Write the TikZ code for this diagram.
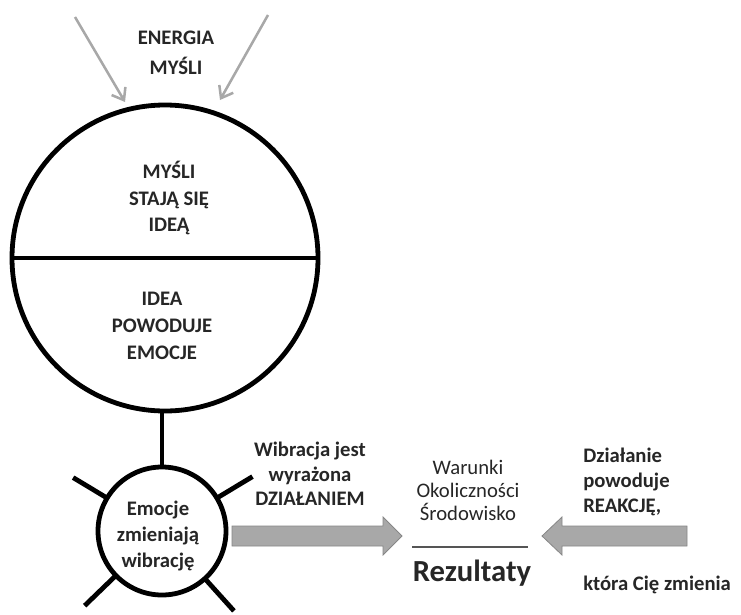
\documentclass[tikz,border=0pt]{standalone}
\usepackage{fontspec}
\setmainfont{Carlito}
\usetikzlibrary{arrows.meta,calc}
\definecolor{txt}{HTML}{262626}
\definecolor{arrowgray}{HTML}{A8A8A8}
\definecolor{rulegray}{HTML}{555555}

\begin{document}
\begin{tikzpicture}[x=0.75pt,y=-0.75pt,
    ring/.style={draw,circle,line width=3.6pt,inner sep=0pt,outer sep=0pt},
    bold/.style={font=\bfseries\fontsize{15.5}{20}\selectfont,text=txt,align=center,inner sep=0pt},
    plain/.style={font=\fontsize{15.5}{17.3}\selectfont,text=txt,align=center,inner sep=0pt},
    thinarrow/.style={draw=arrowgray,line width=1.9pt,-{Straight Barb[length=8pt,width=12pt]}},
    block/.style={fill=arrowgray,draw=arrowgray!80!black,line width=0.6pt}]
        \useasboundingbox (0,0) rectangle (741,614);
        % dwa okregi
        \node[ring,minimum size=229.5pt] (duzy) at (165,258) {};
        \node[ring,minimum size=96pt] (emo) at (162,531) {};
        \draw[line width=3.6pt] (duzy.west) -- (duzy.east);
        \draw[line width=3.6pt] (emo.north) -- (emo.north |- duzy.south);
        % promienie
        \foreach \a/\f in {31/1.65,149/1.62,224/1.68,312/1.68}
          \draw[line width=3.6pt] (emo.\a) -- ($(emo.center)!\f!(emo.\a)$);
        % strzalki energii
        \coordinate (e1) at (75,17);
        \coordinate (e2) at (268,15);
        \coordinate (t1) at (125,102);
        \coordinate (t2) at (220,100);
        \draw[thinarrow] (e1) -- (t1);
        \draw[thinarrow] (e2) -- (t2);
        \node[bold,font=\bfseries\fontsize{15.5}{22.5}\selectfont] (energia) at (176,53) {ENERGIA\\MYŚLI};
        % teksty w okregach
        \node[bold] (mysli) at (169,198) {MYŚLI\\STAJĄ SIĘ\\IDEĄ};
        \node[bold] (idea) at (162,326) {IDEA\\POWODUJE\\EMOCJE};
        \node[bold,font=\bfseries\fontsize{15.5}{19.5}\selectfont] (emotxt) at (158,536) {Emocje\\zmieniają\\wibrację};
        % strzalki blokowe
        \draw[block] (232,526) -- (383,526) -- (383,517) -- (402,536) -- (383,555) -- (383,546) -- (232,546) -- cycle;
        \draw[block] (687,526) -- (562,526) -- (562,517) -- (542,536) -- (562,555) -- (562,546) -- (687,546) -- cycle;
        \node[bold,font=\bfseries\fontsize{15.5}{18.5}\selectfont] (wibracja) at (310,474) {Wibracja jest\\wyrażona\\DZIAŁANIEM};
        % rezultaty
        \node[plain] (warunki) at (468,490) {Warunki\\Okoliczności\\Środowisko};
        \draw[rulegray,line width=2.2pt] (412,547) -- (528,547);
        \node[font=\bfseries\fontsize{23}{26}\selectfont,text=txt,inner sep=0pt] (rezultaty) at (472,573) {Rezultaty};
        \node[bold,align=left,anchor=west,font=\bfseries\fontsize{15.5}{18.8}\selectfont] (dzialanie) at (583,482) {Działanie\\powoduje\\REAKCJĘ,};
        \node[bold,anchor=west] (ktora) at (583,585) {która Cię zmienia};
\end{tikzpicture}
\end{document}
